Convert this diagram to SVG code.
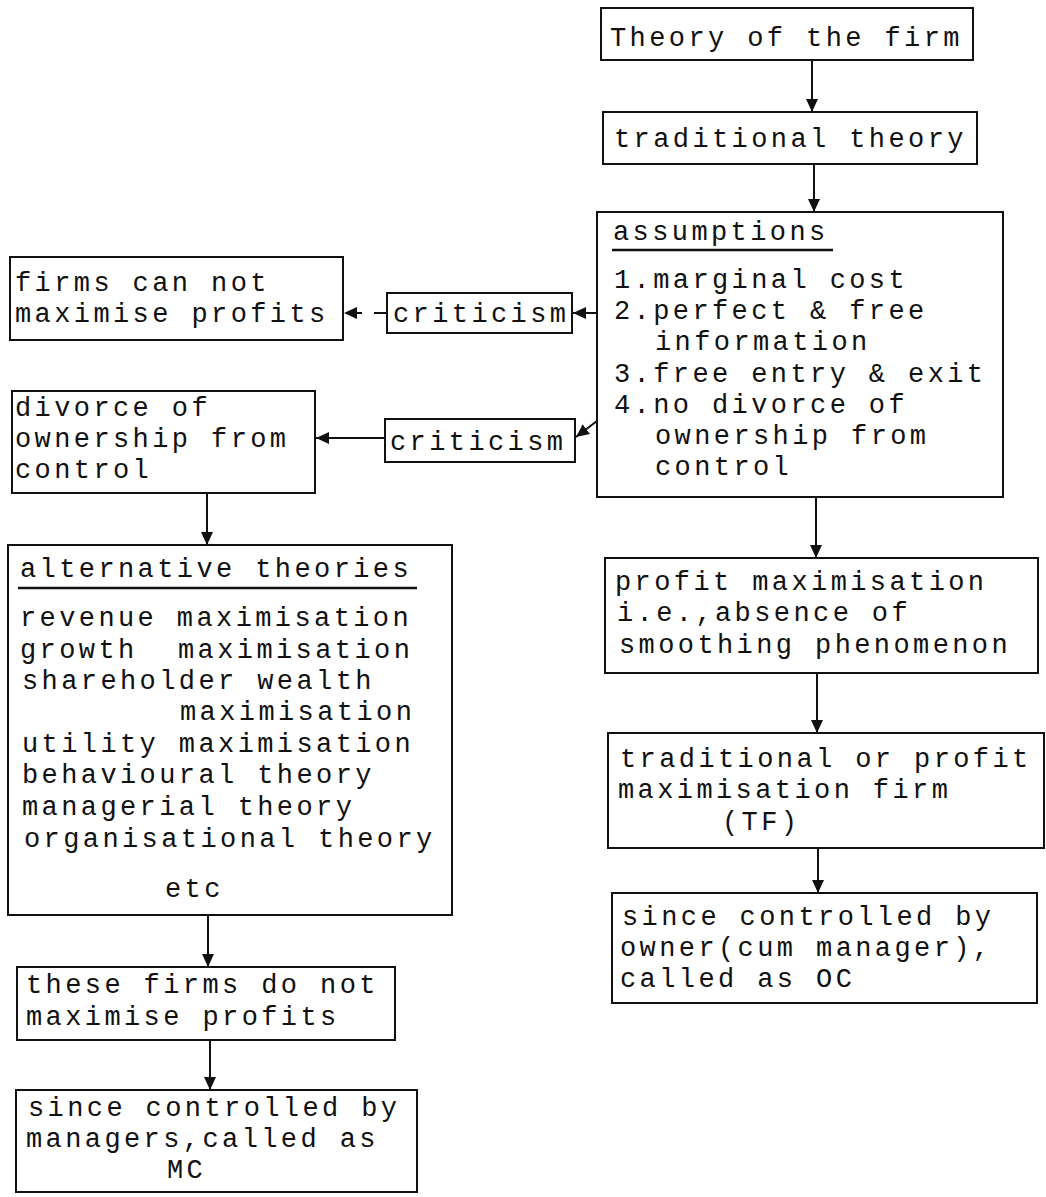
<svg xmlns="http://www.w3.org/2000/svg" width="1046" height="1197" viewBox="0 0 1046 1197">
<style>
.box{fill:#fff;stroke:#111;stroke-width:2}
.t{font-family:"Liberation Mono","DejaVu Sans Mono",monospace;font-size:27px;letter-spacing:3.4px;fill:#111}
.c{stroke:#111;stroke-width:2;fill:none}
.u{stroke:#111;stroke-width:2.5}
</style>
<defs>
<marker id="ah" markerUnits="userSpaceOnUse" markerWidth="14" markerHeight="12" refX="13" refY="6" orient="auto">
<path d="M0,0 L13,6 L0,12 z" fill="#111"/>
</marker>
</defs>
<rect width="1046" height="1197" fill="#fff"/>
<g id="connectors">
<line class="c" x1="812" y1="60" x2="812" y2="112" marker-end="url(#ah)"/>
<line class="c" x1="814" y1="164" x2="814" y2="212" marker-end="url(#ah)"/>
<line class="c" x1="816" y1="497" x2="816" y2="558" marker-end="url(#ah)"/>
<line class="c" x1="817" y1="673" x2="817" y2="733" marker-end="url(#ah)"/>
<line class="c" x1="818" y1="848" x2="818" y2="893" marker-end="url(#ah)"/>
<line class="c" x1="597" y1="313" x2="573" y2="313" marker-end="url(#ah)"/>
<line class="c" x1="386" y1="313" x2="344" y2="313" stroke-dasharray="12 12" marker-end="url(#ah)"/>
<line class="c" x1="614" y1="408" x2="576" y2="437" marker-end="url(#ah)"/>
<line class="c" x1="385" y1="438" x2="316" y2="438" marker-end="url(#ah)"/>
<line class="c" x1="207" y1="493" x2="207" y2="545" marker-end="url(#ah)"/>
<line class="c" x1="208" y1="915" x2="208" y2="967" marker-end="url(#ah)"/>
<line class="c" x1="210" y1="1040" x2="210" y2="1090" marker-end="url(#ah)"/>
</g>
<g id="theory">
<rect class="box" x="601" y="8" width="372" height="52"/>
<text class="t" x="610" y="46">Theory of the firm</text>
</g>
<g id="traditional">
<rect class="box" x="603" y="112" width="374" height="52"/>
<text class="t" x="614" y="147">traditional theory</text>
</g>
<g id="assumptions">
<rect class="box" x="597" y="212" width="406" height="285"/>
<text class="t" x="613" y="240">assumptions</text>
<line class="u" x1="612" y1="250" x2="833" y2="250"/>
<text class="t" x="614" y="288">1.marginal cost</text>
<text class="t" x="614" y="319">2.perfect &amp; free</text>
<text class="t" x="655" y="350">information</text>
<text class="t" x="614" y="382">3.free entry &amp; exit</text>
<text class="t" x="614" y="413">4.no divorce of</text>
<text class="t" x="655" y="444">ownership from</text>
<text class="t" x="655" y="475">control</text>
</g>
<g id="criticism1">
<rect class="box" x="387" y="293" width="185" height="40"/>
<text class="t" x="393" y="322">criticism</text>
</g>
<g id="firms-cannot">
<rect class="box" x="10" y="257" width="333" height="83"/>
<text class="t" x="15" y="291">firms can not</text>
<text class="t" x="15" y="322">maximise profits</text>
</g>
<g id="criticism2">
<rect class="box" x="385" y="419" width="190" height="43"/>
<text class="t" x="390" y="450">criticism</text>
</g>
<g id="divorce">
<rect class="box" x="12" y="391" width="303" height="102"/>
<text class="t" x="15" y="416">divorce of</text>
<text class="t" x="15" y="447">ownership from</text>
<text class="t" x="15" y="478">control</text>
</g>
<g id="alternative">
<rect class="box" x="8" y="545" width="444" height="370"/>
<text class="t" x="20" y="577">alternative theories</text>
<line class="u" x1="18" y1="588" x2="417" y2="588"/>
<text class="t" x="20" y="626">revenue maximisation</text>
<text class="t" x="20" y="658">growth</text>
<text class="t" x="178" y="658">maximisation</text>
<text class="t" x="22" y="689">shareholder wealth</text>
<text class="t" x="180" y="720">maximisation</text>
<text class="t" x="22" y="752">utility maximisation</text>
<text class="t" x="22" y="783">behavioural theory</text>
<text class="t" x="22" y="815">managerial theory</text>
<text class="t" x="24" y="847">organisational theory</text>
<text class="t" x="165" y="897">etc</text>
</g>
<g id="these-firms">
<rect class="box" x="17" y="967" width="378" height="73"/>
<text class="t" x="26" y="993">these firms do not</text>
<text class="t" x="26" y="1025">maximise profits</text>
</g>
<g id="mc">
<rect class="box" x="16" y="1090" width="401" height="102"/>
<text class="t" x="28" y="1116">since controlled by</text>
<text class="t" x="26" y="1147">managers,called as</text>
<text class="t" x="167" y="1178">MC</text>
</g>
<g id="profit-max">
<rect class="box" x="605" y="558" width="433" height="115"/>
<text class="t" x="615" y="590">profit maximisation</text>
<text class="t" x="617" y="621">i.e.,absence of</text>
<text class="t" x="619" y="653">smoothing phenomenon</text>
</g>
<g id="tf">
<rect class="box" x="608" y="733" width="436" height="115"/>
<text class="t" x="620" y="767">traditional or profit</text>
<text class="t" x="618" y="798">maximisation firm</text>
<text class="t" x="722" y="830">(TF)</text>
</g>
<g id="oc">
<rect class="box" x="612" y="893" width="425" height="110"/>
<text class="t" x="622" y="925">since controlled by</text>
<text class="t" x="620" y="956">owner(cum manager),</text>
<text class="t" x="620" y="987">called as OC</text>
</g>
</svg>
